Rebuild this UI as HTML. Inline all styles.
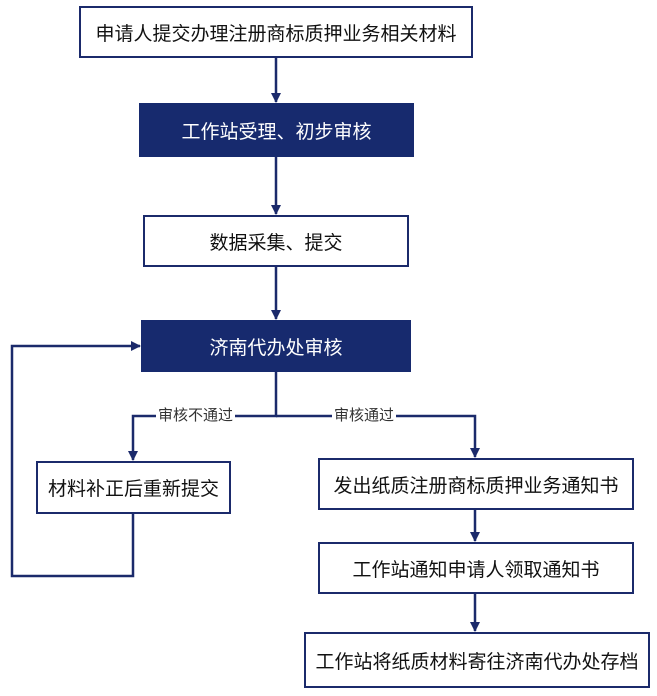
<!DOCTYPE html>
<html><head><meta charset="utf-8"><style>
body{margin:0;background:#fff;}
.b{position:absolute;box-sizing:border-box;border:2px solid #1b2a6b;background:#fff;display:flex;align-items:center;justify-content:center;font-family:"Liberation Sans","Noto Sans CJK SC",sans-serif;font-size:19px;color:#111;}
.f{background:#172a6e;color:#fff;border-color:#172a6e;}
.l{position:absolute;font-family:"Liberation Sans","Noto Sans CJK SC",sans-serif;font-size:15px;color:#333;background:#fff;padding:0 2px;line-height:16px;}
</style></head><body>
<div style="position:relative;width:657px;height:696px;overflow:hidden">
<svg width="657" height="696" style="position:absolute;left:0;top:0">
<defs><marker id="a" markerWidth="10" markerHeight="10" refX="9" refY="5" orient="auto" markerUnits="userSpaceOnUse"><path d="M0,0L10,5L0,10z" fill="#1b2a6b"/></marker></defs>
<g stroke="#1b2a6b" stroke-width="2.5" fill="none">
<line x1="276" y1="58" x2="276" y2="102" marker-end="url(#a)"/>
<line x1="276" y1="157" x2="276" y2="214" marker-end="url(#a)"/>
<line x1="276" y1="267" x2="276" y2="319" marker-end="url(#a)"/>
<polyline points="276,372 276,416 133,416 133,460" marker-end="url(#a)"/>
<polyline points="276,416 475,416 475,457" marker-end="url(#a)"/>
<polyline points="133,514 133,576 12,576 12,346 140,346" marker-end="url(#a)"/>
<line x1="475" y1="510" x2="475" y2="541" marker-end="url(#a)"/>
<line x1="475" y1="594" x2="475" y2="631" marker-end="url(#a)"/>
</g></svg>
<div class="b" style="left:79px;top:6px;width:394px;height:52px">申请人提交办理注册商标质押业务相关材料</div>
<div class="b f" style="left:139px;top:103px;width:275px;height:54px">工作站受理、初步审核</div>
<div class="b" style="left:143px;top:215px;width:266px;height:52px">数据采集、提交</div>
<div class="b f" style="left:141px;top:320px;width:270px;height:52px">济南代办处审核</div>
<div class="l" style="left:156px;top:408px">审核不通过</div>
<div class="l" style="left:332px;top:408px">审核通过</div>
<div class="b" style="left:36px;top:461px;width:195px;height:53px">材料补正后重新提交</div>
<div class="b" style="left:318px;top:458px;width:316px;height:52px">发出纸质注册商标质押业务通知书</div>
<div class="b" style="left:318px;top:542px;width:316px;height:52px">工作站通知申请人领取通知书</div>
<div class="b" style="left:304px;top:632px;width:346px;height:56px">工作站将纸质材料寄往济南代办处存档</div>
</div></body></html>
